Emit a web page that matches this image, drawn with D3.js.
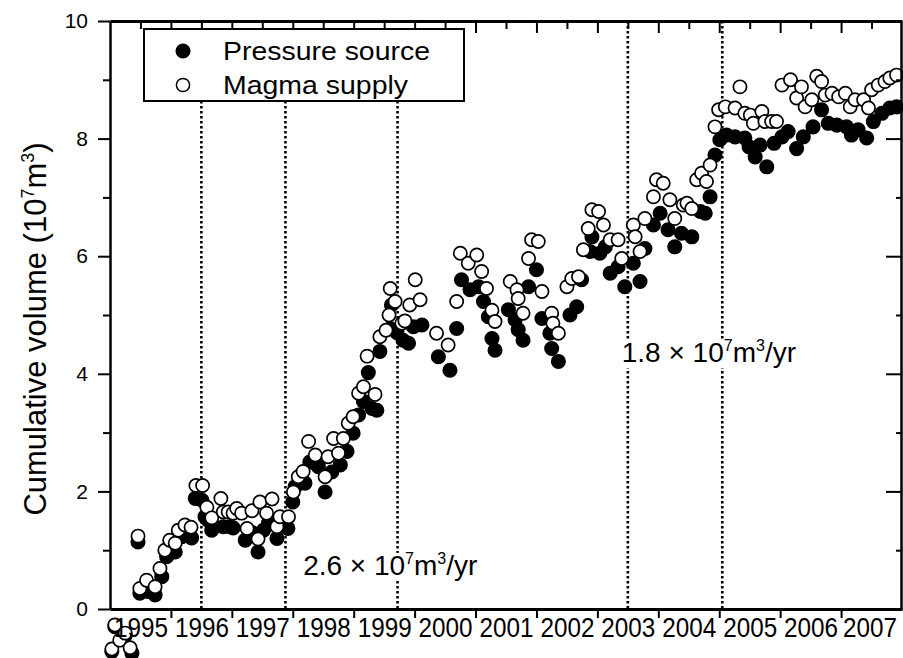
<!DOCTYPE html>
<html lang="en">
<head>
<meta charset="UTF-8">
<title>Cumulative volume</title>
<script src="https://d3js.org/d3.v7.min.js"></script>
<style>
  body { margin: 0; background: #fff; }
  text { font-family: "Liberation Sans", Arial, sans-serif; fill: #000; }
</style>
</head>
<body>
<script>
// pressure source (filled circles), decimal year / 10^7 m^3
const pressureYear = [1995.03, 1995.08, 1995.25, 1995.36, 1995.46, 1995.49, 1995.62, 1995.74, 1995.85, 1995.93,
  1996.07, 1996.18, 1996.34, 1996.40, 1996.51, 1996.56, 1996.61, 1996.67, 1996.86, 1996.97,
  1997.02, 1997.22, 1997.33, 1997.43, 1997.52, 1997.60, 1997.74, 1997.92, 1998.00, 1998.04,
  1998.20, 1998.28, 1998.42, 1998.53, 1998.64, 1998.78, 1998.89, 1998.99, 1999.08, 1999.16,
  1999.24, 1999.30, 1999.38, 1999.43, 1999.60, 1999.62, 1999.71, 1999.81, 1999.90, 1999.98,
  2000.12, 2000.39, 2000.58, 2000.69, 2000.77, 2000.91, 2001.05, 2001.13, 2001.21, 2001.27,
  2001.32, 2001.54, 2001.65, 2001.70, 2001.78, 2001.87, 2002.00, 2002.09, 2002.22, 2002.25,
  2002.36, 2002.55, 2002.66, 2002.74, 2002.88, 2002.91, 2003.04, 2003.13, 2003.21, 2003.34,
  2003.45, 2003.59, 2003.70, 2003.78, 2003.92, 2004.03, 2004.16, 2004.27, 2004.38, 2004.55,
  2004.69, 2004.77, 2004.85, 2004.93, 2005.01, 2005.12, 2005.26, 2005.42, 2005.49, 2005.59,
  2005.67, 2005.78, 2005.90, 2006.03, 2006.13, 2006.27, 2006.38, 2006.54, 2006.68, 2006.79,
  2006.93, 2007.09, 2007.17, 2007.28, 2007.42, 2007.53, 2007.67, 2007.80, 2007.91];
const pressureVol = [-0.72, -0.30, -0.45, -0.75, 1.14, 0.27, 0.30, 0.24, 0.55, 0.89,
  0.97, 1.23, 1.21, 1.88, 1.85, 1.57, 1.51, 1.34, 1.40, 1.40,
  1.38, 1.17, 1.30, 0.97, 1.34, 1.46, 1.20, 1.37, 1.82, 2.08,
  2.14, 2.50, 2.42, 1.99, 2.33, 2.45, 2.68, 2.99, 3.30, 3.53,
  4.02, 3.41, 3.38, 4.38, 4.77, 5.17, 4.70, 4.57, 4.52, 4.80,
  4.83, 4.29, 4.06, 4.77, 5.60, 5.43, 5.48, 5.23, 4.97, 4.60,
  4.40, 5.09, 4.92, 4.75, 4.57, 5.48, 5.77, 4.94, 4.69, 4.43,
  4.21, 5.00, 5.14, 5.60, 6.08, 6.33, 6.05, 6.16, 5.71, 5.82,
  5.48, 5.88, 5.57, 6.13, 6.53, 6.73, 6.45, 6.16, 6.39, 6.33,
  6.76, 6.73, 7.01, 7.72, 7.98, 8.06, 8.03, 8.01, 7.86, 7.69,
  7.89, 7.52, 7.92, 8.03, 8.12, 7.83, 8.03, 8.20, 8.49, 8.26,
  8.23, 8.20, 8.06, 8.15, 8.01, 8.29, 8.43, 8.52, 8.54];

// magma supply (open circles)
const magmaYear = [1995.03, 1995.08, 1995.16, 1995.25, 1995.33, 1995.46, 1995.49, 1995.60, 1995.74, 1995.82,
  1995.90, 1995.98, 1996.07, 1996.12, 1996.23, 1996.33, 1996.41, 1996.52, 1996.59, 1996.67,
  1996.82, 1996.86, 1996.94, 1997.02, 1997.08, 1997.16, 1997.25, 1997.33, 1997.43, 1997.46,
  1997.57, 1997.66, 1997.74, 1997.79, 1997.93, 1998.01, 1998.09, 1998.17, 1998.26, 1998.37,
  1998.53, 1998.58, 1998.67, 1998.75, 1998.83, 1998.91, 1998.99, 1999.08, 1999.16, 1999.22,
  1999.35, 1999.43, 1999.53, 1999.58, 1999.60, 1999.68, 1999.79, 1999.84, 1999.92, 2000.01,
  2000.09, 2000.36, 2000.55, 2000.69, 2000.75, 2000.88, 2001.02, 2001.10, 2001.18, 2001.27,
  2001.32, 2001.57, 2001.68, 2001.70, 2001.78, 2001.87, 2001.92, 2002.03, 2002.09, 2002.25,
  2002.27, 2002.36, 2002.50, 2002.58, 2002.69, 2002.77, 2002.85, 2002.91, 2003.02, 2003.10,
  2003.21, 2003.34, 2003.40, 2003.59, 2003.62, 2003.70, 2003.78, 2003.92, 2003.97, 2004.08,
  2004.19, 2004.27, 2004.41, 2004.47, 2004.55, 2004.63, 2004.71, 2004.79, 2004.85, 2004.93,
  2004.99, 2005.10, 2005.26, 2005.34, 2005.42, 2005.51, 2005.56, 2005.70, 2005.75, 2005.86,
  2005.94, 2006.03, 2006.17, 2006.27, 2006.35, 2006.41, 2006.52, 2006.60, 2006.68, 2006.74,
  2006.85, 2006.96, 2007.07, 2007.15, 2007.23, 2007.37, 2007.45, 2007.50, 2007.61, 2007.72,
  2007.80, 2007.91];
const magmaVol = [-0.68, -0.27, -0.53, -0.41, -0.66, 1.24, 0.35, 0.49, 0.38, 0.69,
  1.00, 1.17, 1.12, 1.34, 1.43, 1.39, 2.10, 2.10, 1.73, 1.55,
  1.88, 1.65, 1.65, 1.63, 1.71, 1.63, 1.37, 1.67, 1.19, 1.82,
  1.63, 1.87, 1.40, 1.57, 1.57, 1.99, 2.25, 2.34, 2.85, 2.62,
  2.25, 2.59, 2.90, 2.65, 2.90, 3.16, 3.27, 3.67, 3.78, 4.30,
  3.65, 4.63, 4.74, 5.00, 5.45, 5.23, 4.86, 4.90, 5.17, 5.60,
  5.26, 4.69, 4.49, 5.23, 6.05, 5.88, 6.02, 5.74, 5.45, 5.08,
  4.89, 5.57, 5.43, 5.28, 5.03, 5.96, 6.28, 6.25, 5.40, 5.03,
  4.86, 4.69, 5.48, 5.62, 5.65, 6.11, 6.47, 6.79, 6.76, 6.53,
  6.28, 6.28, 5.96, 6.53, 6.33, 6.08, 6.64, 7.01, 7.30, 7.24,
  6.96, 6.64, 6.87, 6.90, 6.81, 7.30, 7.41, 7.27, 7.55, 8.20,
  8.49, 8.54, 8.52, 8.88, 8.43, 8.40, 8.26, 8.46, 8.29, 8.29,
  8.29, 8.91, 9.00, 8.69, 8.88, 8.54, 8.66, 9.06, 8.97, 8.74,
  8.77, 8.71, 8.77, 8.54, 8.66, 8.66, 8.52, 8.83, 8.91, 8.97,
  9.03, 9.08];

const yearLabels = [1995, 1996, 1997, 1998, 1999, 2000, 2001, 2002, 2003, 2004, 2005, 2006, 2007];
const volTicks = [0, 2, 4, 6, 8, 10];
const volMinor = [1, 3, 5, 7, 9];
const breakYears = [1996.5, 1997.88, 1999.72, 2003.5, 2005.05];
const rateYear = [1998.17, 2003.4];
const rateVol = [0.58, 4.2];
const rateMantissa = ["2.6", "1.8"];
const legendNames = ["Pressure source", "Magma supply"];

const width = 903, height = 658;
const margin = {top: 21, right: 1, bottom: 49, left: 110};

const svg = d3.select("body").append("svg")
  .attr("width", width)
  .attr("height", height);

const x = d3.scaleLinear().domain([1995, 2008]).range([margin.left, width - margin.right]);
const y = d3.scaleLinear().domain([0, 10]).range([height - margin.bottom, margin.top]);

// legend box (break lines start under it)
const legend = {x0: 144, y0: 29, x1: 464, y1: 101};

// dotted break lines
svg.append("g").selectAll("line")
  .data(breakYears)
  .join("line")
  .attr("x1", d => x(d)).attr("x2", d => x(d))
  .attr("y1", d => (x(d) > legend.x0 && x(d) < legend.x1) ? legend.y1 : y(10))
  .attr("y2", y(0))
  .attr("stroke", "#000")
  .attr("stroke-width", 2.6)
  .attr("stroke-dasharray", "2.4,2.6");

// rate labels with white backing
const rates = svg.append("g");
rateYear.forEach((t, i) => {
  const g = rates.append("g");
  const txt = g.append("text")
    .attr("x", x(t)).attr("y", y(rateVol[i]))
    .style("font-size", "28px");
  txt.append("tspan").text(rateMantissa[i] + " \u00d7 10");
  txt.append("tspan").attr("dy", -11).style("font-size", "16px").text("7");
  txt.append("tspan").attr("dy", 11).text("m");
  txt.append("tspan").attr("dy", -11).style("font-size", "16px").text("3");
  txt.append("tspan").attr("dy", 11).text("/yr");
  const bb = txt.node().getBBox();
  g.insert("rect", "text")
    .attr("x", bb.x).attr("y", bb.y + 3)
    .attr("width", bb.width).attr("height", bb.height - 3)
    .attr("fill", "#fff");
});

// points
svg.append("g").selectAll("circle")
  .data(d3.zip(pressureYear, pressureVol))
  .join("circle")
  .attr("cx", d => x(d[0]))
  .attr("cy", d => y(d[1]))
  .attr("r", 6.8)
  .attr("fill", "#000")
  .attr("stroke", "#000")
  .attr("stroke-width", 1.5);

svg.append("g").selectAll("circle")
  .data(d3.zip(magmaYear, magmaVol))
  .join("circle")
  .attr("cx", d => x(d[0]))
  .attr("cy", d => y(d[1]))
  .attr("r", 6.6)
  .attr("fill", "#fff")
  .attr("stroke", "#000")
  .attr("stroke-width", 1.7);

// axes
const yearTicks = yearLabels.slice(1);
const halfYears = d3.range(1995.5, 2008, 0.5);

function styleAxis(g, w) {
  g.select(".domain").attr("stroke-width", w);
  g.selectAll(".tick line").attr("stroke-width", 2);
}

// bottom: ticks at year boundaries, labels centred in each year
svg.append("g")
  .attr("transform", `translate(0,${y(0)})`)
  .call(d3.axisBottom(x).tickValues(yearTicks).tickSize(9).tickFormat("").tickSizeOuter(0))
  .call(g => styleAxis(g, 3));

svg.append("g")
  .attr("transform", `translate(0,${y(0)})`)
  .call(d3.axisBottom(x).tickValues(yearLabels.map(d => d + 0.5)).tickSize(0).tickPadding(9)
    .tickFormat(d => String(Math.floor(d))))
  .call(g => g.select(".domain").remove())
  .call(g => g.selectAll("text")
    .attr("x", d => d > 2007 ? -2 : 0)
    .style("font-size", "27px")
    .attr("textLength", 54)
    .attr("lengthAdjust", "spacingAndGlyphs"));

// top: inward ticks
svg.append("g")
  .attr("transform", `translate(0,${y(10)})`)
  .call(d3.axisBottom(x).tickValues(halfYears).tickSize(8).tickFormat("").tickSizeOuter(0))
  .call(g => g.selectAll(".tick line").attr("y2", d => d % 1 === 0 ? 12 : 8))
  .call(g => styleAxis(g, 3));

// left
svg.append("g")
  .attr("transform", `translate(${x(1995)},0)`)
  .call(d3.axisLeft(y).tickValues(volTicks).tickSize(12).tickPadding(10).tickSizeOuter(0))
  .call(g => styleAxis(g, 2.5))
  .call(g => g.selectAll("text").style("font-size", "21px"));

svg.append("g")
  .attr("transform", `translate(${x(1995)},0)`)
  .call(d3.axisLeft(y).tickValues(volMinor).tickSize(7).tickFormat("").tickSizeOuter(0))
  .call(g => g.select(".domain").remove())
  .call(g => g.selectAll(".tick line").attr("stroke-width", 2));

// right: inward ticks
svg.append("g")
  .attr("transform", `translate(${x(2008) - 1},0)`)
  .call(d3.axisLeft(y).tickValues(volTicks.concat(volMinor)).tickSize(15).tickFormat("").tickSizeOuter(0))
  .call(g => g.selectAll(".tick line").attr("x2", d => d % 2 === 0 ? -15 : -5))
  .call(g => styleAxis(g, 2.5));

// y title
const title = svg.append("text")
  .attr("transform", `translate(46,${(y(0) + y(10)) / 2 + 14}) rotate(-90)`)
  .attr("text-anchor", "middle")
  .style("font-size", "31px");
title.append("tspan").text("Cumulative volume (10");
title.append("tspan").attr("dy", -12).style("font-size", "18px").text("7");
title.append("tspan").attr("dy", 12).text("m");
title.append("tspan").attr("dy", -12).style("font-size", "18px").text("3");
title.append("tspan").attr("dy", 12).text(")");

// legend
svg.append("rect")
  .attr("x", legend.x0).attr("y", legend.y0)
  .attr("width", legend.x1 - legend.x0).attr("height", legend.y1 - legend.y0)
  .attr("fill", "#fff").attr("stroke", "#000").attr("stroke-width", 2);

const legendRows = svg.append("g").selectAll("g")
  .data(legendNames)
  .join("g")
  .attr("transform", (d, i) => `translate(${legend.x0 + 39},${legend.y0 + 22 + i * 34})`);

legendRows.append("circle")
  .attr("r", d => d === legendNames[0] ? 6.8 : 6.6)
  .attr("fill", d => d === legendNames[0] ? "#000" : "#fff")
  .attr("stroke", "#000")
  .attr("stroke-width", 1.5);

legendRows.append("text")
  .attr("x", 40).attr("dy", "0.35em")
  .style("font-size", "25px")
  .attr("textLength", d => d === legendNames[0] ? 207 : 185)
  .attr("lengthAdjust", "spacingAndGlyphs")
  .text(d => d);
</script>
</body>
</html>
